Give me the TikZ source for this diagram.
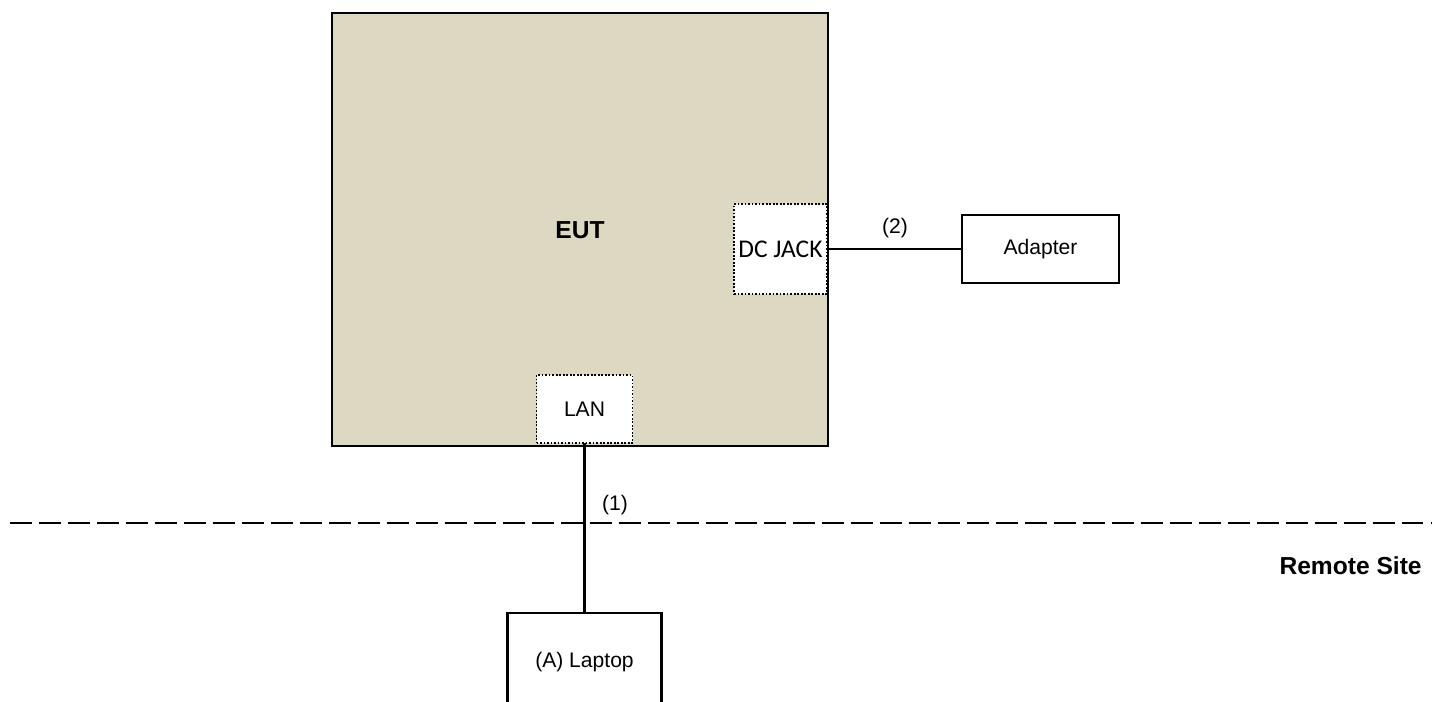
\documentclass[tikz,border=0pt]{standalone}
\usepackage{fontspec}
\setmainfont{Liberation Sans}
\newfontfamily\calibri{Carlito}
\definecolor{eutfill}{RGB}{221,216,194}

\begin{document}
\begin{tikzpicture}[x=0.02cm,y=-0.02cm,
  box/.style={rectangle,draw,line width=1.2pt,inner sep=0pt,outer sep=0pt,font=\fontsize{12}{14}\selectfont},
  port/.style={rectangle,draw,densely dotted,line width=1pt,fill=white,inner sep=0pt,outer sep=0pt},
  wire/.style={line width=1.2pt},
  lbl/.style={inner sep=0pt,font=\fontsize{12}{14}\selectfont}]
\clip (0,0) rectangle (1432,702);
% equipment under test
\node[box,fill=eutfill,minimum width=9.92cm,minimum height=8.66cm] (eut) at (580,229.5) {};
\node[inner sep=0pt,font=\fontsize{14}{16}\selectfont\bfseries] (euttext) at (580,230) {EUT};
\node[port,minimum width=1.86cm,minimum height=1.8cm,font=\calibri\fontsize{14.5}{16}\selectfont] (jack) at (780.5,249) {DC JACK};
\node[port,minimum width=1.92cm,minimum height=1.36cm,font=\fontsize{12}{14}\selectfont] (lan) at (584.5,409) {LAN};
% support units
\node[box,minimum width=3.14cm,minimum height=1.36cm] (adapter) at (1040.5,249) {Adapter};
\node[box,minimum width=3.08cm,minimum height=1.96cm] (laptop) at (584.5,662) {(A) Laptop};
% cables
\draw[wire] (jack.east) -- (adapter.west);
\draw[wire] (lan.south) -- (laptop.north);
\node[lbl] (c2) at (895,228) {(2)};
\node[lbl] (c1) at (615,505) {(1)};
% remote site border
\draw[line width=1.1pt,dash pattern=on 12.5pt off 4pt] (10,523) -- (1432,523);
\node[inner sep=0pt,anchor=east,font=\fontsize{14}{16}\selectfont\bfseries] (remote) at (1422,566) {Remote Site};
\end{tikzpicture}
\end{document}
